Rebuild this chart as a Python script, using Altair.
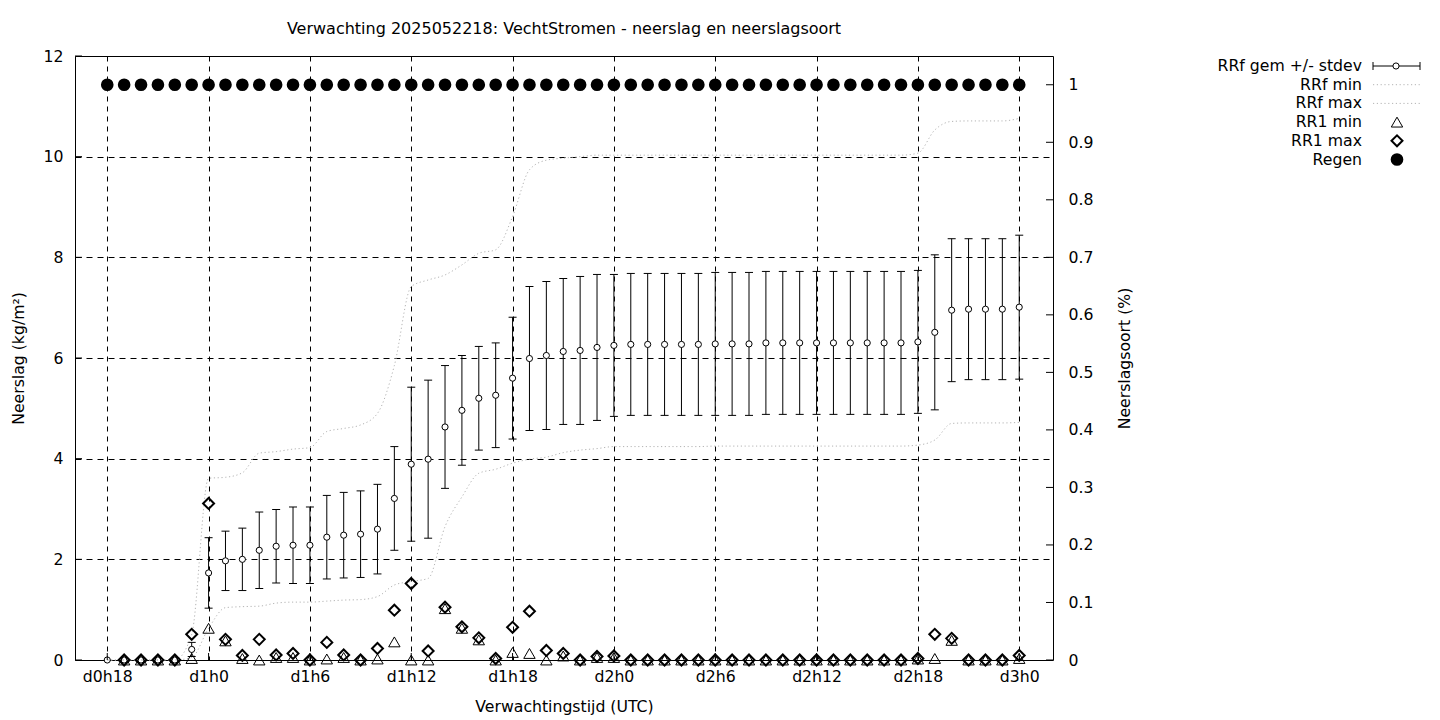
import altair as alt
import pandas as pd

# ---------------- data ----------------
hours = list(range(18, 73))
rrf_mean = [0, 0, 0, 0, 0, 0.21,
            1.73, 1.97, 2.00, 2.18, 2.26, 2.28, 2.28, 2.44, 2.48, 2.50, 2.60,
            3.21, 3.89, 3.99, 4.63, 4.96, 5.20, 5.26, 5.60, 5.99, 6.05, 6.13, 6.15, 6.21, 6.25,
            6.27, 6.27, 6.27, 6.27, 6.27,
            6.28, 6.28, 6.28,
            6.30, 6.30, 6.30, 6.30, 6.30, 6.30, 6.30, 6.30, 6.30,
            6.32, 6.51, 6.95, 6.97, 6.97, 6.97, 7.01]
rrf_sd = [0, 0, 0, 0, 0, 0.14,
          0.70, 0.59, 0.62, 0.76, 0.73, 0.76, 0.76, 0.83, 0.85, 0.86, 0.89,
          1.03, 1.53, 1.57, 1.22, 1.09, 1.03, 1.04, 1.21, 1.43, 1.47, 1.45, 1.47, 1.45, 1.41,
          1.41, 1.41, 1.41, 1.41, 1.41,
          1.42, 1.42, 1.42,
          1.42, 1.42, 1.42, 1.42, 1.42, 1.42, 1.42, 1.42, 1.42,
          1.42, 1.54, 1.42, 1.40, 1.40, 1.40, 1.43]
rrf_min = [0, 0, 0, 0, 0, 0.05,
           0.63, 1.04, 1.06, 1.07, 1.13, 1.15, 1.15, 1.17, 1.19, 1.20, 1.26,
           1.49, 1.56, 1.62, 2.65, 3.24, 3.71, 3.79, 3.91, 3.99, 4.03, 4.12, 4.17, 4.20, 4.24,
           4.24, 4.24, 4.24, 4.24, 4.24,
           4.25, 4.25, 4.25,
           4.25, 4.25, 4.25, 4.25, 4.25, 4.25, 4.25, 4.25, 4.25,
           4.27, 4.37, 4.70, 4.71, 4.71, 4.71, 4.72]
rrf_max = [0, 0, 0, 0, 0, 0.51,
           3.61, 3.63, 3.72, 4.11, 4.14, 4.19, 4.22, 4.54, 4.60, 4.67, 4.90,
           5.85, 7.42, 7.55, 7.65, 7.85, 8.08, 8.15, 8.81, 9.74, 9.93, 9.97, 10.00, 10.03, 10.03,
           10.03, 10.03, 10.03, 10.03, 10.03,
           10.03, 10.03, 10.03,
           10.03, 10.03, 10.03, 10.03, 10.03, 10.03, 10.03, 10.03, 10.03,
           10.07, 10.53, 10.70, 10.71, 10.71, 10.71, 10.76]
rr1_min = [None, 0, 0, 0, 0, 0.03,
           0.63, 0.38, 0.03, 0, 0.05, 0.05, 0, 0.02, 0.05, 0, 0.02,
           0.36, 0, 0, 1.02, 0.63, 0.40, 0, 0.15, 0.13, 0, 0.08, 0, 0.05, 0.05,
           0, 0, 0, 0, 0,
           0, 0, 0,
           0, 0, 0, 0, 0, 0, 0, 0, 0,
           0.02, 0.03, 0.39, 0, 0, 0, 0.03]
rr1_max = [None, 0, 0, 0, 0, 0.51,
           3.11, 0.41, 0.09, 0.41, 0.10, 0.13, 0, 0.35, 0.10, 0, 0.23,
           0.99, 1.52, 0.18, 1.05, 0.66, 0.44, 0.03, 0.65, 0.97, 0.19, 0.13, 0, 0.07, 0.08,
           0, 0, 0, 0, 0,
           0, 0, 0,
           0, 0, 0, 0, 0, 0, 0, 0, 0,
           0.03, 0.51, 0.43, 0, 0, 0, 0.09]
regen = [1] * len(hours)

x_ticks = [18, 24, 30, 36, 42, 48, 54, 60, 66, 72]
y_ticks = [0, 2, 4, 6, 8, 10, 12]
y2_ticks = [0, 0.1, 0.2, 0.3, 0.4, 0.5, 0.6, 0.7, 0.8, 0.9, 1.0]

legend_labels = ["RRf gem +/- stdev", "RRf min", "RRf max", "RR1 min", "RR1 max", "Regen"]

title_text = "Verwachting 2025052218: VechtStromen - neerslag en neerslagsoort"

df = pd.DataFrame({
    "hour": hours, "mean": rrf_mean, "sd": rrf_sd,
    "rrfmin": rrf_min, "rrfmax": rrf_max,
    "rr1min": rr1_min, "rr1max": rr1_max, "regen": regen,
})

# ---------------- layout / style ----------------
W, H = 978, 604
FONT = "DejaVu Sans"
FS = 15.7
GRAY = "#b4b4b4"

xscale = alt.Scale(domain=[16.09, 74.0], nice=False, zero=False)
yscale = alt.Scale(domain=[0, 12], nice=False)
y2scale = alt.Scale(domain=[0, 1.05], nice=False)

axis_font = dict(labelFont=FONT, labelFontSize=FS, labelColor="black",
                 titleFont=FONT, titleFontSize=FS, titleColor="black",
                 titleFontWeight="normal")

xaxis = alt.Axis(values=x_ticks,
                 labelExpr="'d' + floor(datum.value/24) + 'h' + (datum.value % 24)",
                 title="Verwachtingstijd (UTC)", grid=True, gridDash=[5, 5],
                 gridColor="black", gridOpacity=1, gridWidth=1, tickSize=0,
                 labelPadding=9, domain=False, titleY=46, titleBaseline="middle",
                 **axis_font)
yaxis = alt.Axis(values=y_ticks, title="Neerslag (kg/m\u00b2)", grid=True,
                 gridDash=[6, 5], gridColor="black", gridOpacity=1, gridWidth=1,
                 tickSize=0, labelPadding=12, domain=False, titleX=-57,
                 titleY=H / 2, titleBaseline="middle", titleAngle=-90,
                 **axis_font)
y2axis = alt.Axis(values=y2_ticks, format="~g", orient="right",
                  title="Neerslagsoort (%)", grid=False, tickSize=0,
                  labelPadding=15, domain=False, titleX=71, titleY=H / 2,
                  titleBaseline="middle", titleAngle=-90, **axis_font)

base = alt.Chart(df).encode(x=alt.X("hour:Q", scale=xscale, axis=xaxis))

err = base.transform_filter("datum.sd > 0").transform_calculate(
    lo="datum.mean - datum.sd", hi="datum.mean + datum.sd")

err_rule = err.mark_rule(color="black", strokeWidth=1).encode(
    y=alt.Y("lo:Q", scale=yscale, axis=yaxis), y2="hi:Q")
cap_lo = err.mark_tick(orient="horizontal", size=8, thickness=1, color="black",
                       opacity=1).encode(y=alt.Y("lo:Q", scale=yscale, axis=yaxis))
cap_hi = err.mark_tick(orient="horizontal", size=8, thickness=1, color="black",
                       opacity=1).encode(y=alt.Y("hi:Q", scale=yscale, axis=yaxis))
mean_pt = base.mark_point(shape="circle", filled=True, fill="white", stroke="black",
                          strokeWidth=1, size=38, opacity=1).encode(
    y=alt.Y("mean:Q", scale=yscale, axis=yaxis))
line_min = base.mark_line(color=GRAY, strokeWidth=1, strokeDash=[1.2, 2.6],
                          interpolate="monotone").encode(
    y=alt.Y("rrfmin:Q", scale=yscale, axis=yaxis))
line_max = base.mark_line(color=GRAY, strokeWidth=1, strokeDash=[1.2, 2.6],
                          interpolate="monotone").encode(
    y=alt.Y("rrfmax:Q", scale=yscale, axis=yaxis))
tri = base.transform_filter("isValid(datum.rr1min)").mark_point(
    shape="triangle-up", filled=False, stroke="black", strokeWidth=1, size=130,
    opacity=1).encode(y=alt.Y("rr1min:Q", scale=yscale, axis=yaxis))
dia = base.transform_filter("isValid(datum.rr1max)").mark_point(
    shape="diamond", filled=False, stroke="black", strokeWidth=2, size=120,
    opacity=1).encode(y=alt.Y("rr1max:Q", scale=yscale, axis=yaxis))

# inward ticks
yt = alt.Chart(pd.DataFrame({"v": y_ticks})).mark_rule(color="black").encode(
    y=alt.Y("v:Q", scale=yscale, axis=yaxis), x=alt.value(0), x2=alt.value(7))
xt = alt.Chart(pd.DataFrame({"v": x_ticks})).mark_rule(color="black").encode(
    x=alt.X("v:Q", scale=xscale, axis=xaxis), y=alt.value(H - 7), y2=alt.value(H))

left = alt.layer(err_rule, cap_lo, cap_hi, mean_pt, line_min, line_max, tri, dia, yt, xt)

regen_pt = base.mark_point(shape="circle", filled=True, color="black", size=160,
                           opacity=1).encode(
    y=alt.Y("regen:Q", scale=y2scale, axis=y2axis))
y2t = alt.Chart(pd.DataFrame({"v": y2_ticks})).mark_rule(color="black").encode(
    y=alt.Y("v:Q", scale=y2scale, axis=y2axis), x=alt.value(W - 7), x2=alt.value(W))
right = alt.layer(regen_pt, y2t)

# ---------------- manual legend (gnuplot style) ----------------
one = pd.DataFrame({"k": [0]})
LX_TEXT, LX0, LX1, LXS = 1287, 1298, 1345, 1322
ROW0, STEP = 10, 18.7
leg = []
for i, lab in enumerate(legend_labels):
    yy = ROW0 + i * STEP
    leg.append(alt.Chart(one).mark_text(text=lab, align="right", baseline="middle",
                                        font=FONT, fontSize=FS, color="black").encode(
        x=alt.value(LX_TEXT), y=alt.value(yy)))
y0 = ROW0
leg.append(alt.Chart(one).mark_rule(color="black").encode(
    x=alt.value(LX0), x2=alt.value(LX1), y=alt.value(y0)))
leg.append(alt.Chart(one).mark_rule(color="black").encode(
    x=alt.value(LX0), y=alt.value(y0 - 4), y2=alt.value(y0 + 4)))
leg.append(alt.Chart(one).mark_rule(color="black").encode(
    x=alt.value(LX1), y=alt.value(y0 - 4), y2=alt.value(y0 + 4)))
leg.append(alt.Chart(one).mark_point(shape="circle", filled=True, fill="white",
                                     stroke="black", strokeWidth=1, size=38,
                                     opacity=1).encode(
    x=alt.value(LXS - 1), y=alt.value(y0)))
for i in (1, 2):
    yy = ROW0 + i * STEP
    leg.append(alt.Chart(one).mark_rule(color=GRAY, strokeDash=[1.2, 2.6]).encode(
        x=alt.value(LX0), x2=alt.value(LX1), y=alt.value(yy)))
leg.append(alt.Chart(one).mark_point(shape="triangle-up", filled=False, stroke="black",
                                     strokeWidth=1, size=130, opacity=1).encode(
    x=alt.value(LXS), y=alt.value(ROW0 + 3 * STEP)))
leg.append(alt.Chart(one).mark_point(shape="diamond", filled=False, stroke="black",
                                     strokeWidth=2, size=120, opacity=1).encode(
    x=alt.value(LXS), y=alt.value(ROW0 + 4 * STEP)))
leg.append(alt.Chart(one).mark_point(shape="circle", filled=True, color="black",
                                     size=160, opacity=1).encode(
    x=alt.value(LXS), y=alt.value(ROW0 + 5 * STEP)))

chart = alt.layer(left, right, *leg).resolve_scale(y="independent").properties(
    width=W, height=H,
    title=alt.Title(title_text, font=FONT, fontSize=16, fontWeight="normal",
                    anchor="middle", offset=11, color="black"),
    autosize=alt.AutoSizeParams(type="none"),
    padding={"left": 67, "top": 48, "right": 371, "bottom": 58},
    background="white",
).configure_view(stroke="black", strokeWidth=1)

chart.save("out.html", embed_options={"renderer": "svg", "actions": False})
